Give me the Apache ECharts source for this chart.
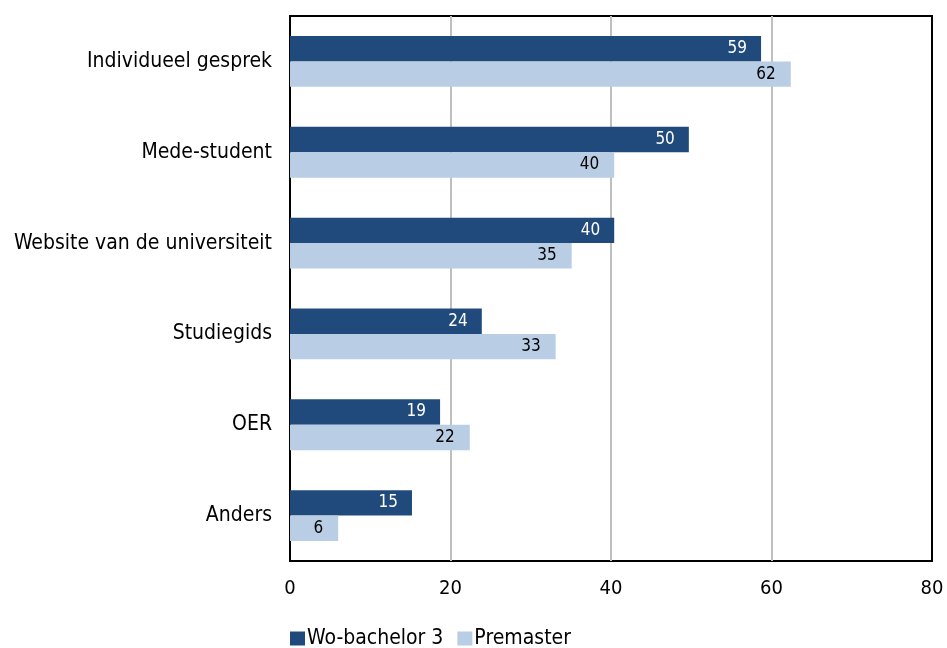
<!DOCTYPE html>
<html>
<head>
<meta charset="utf-8">
<script src="https://cdn.jsdelivr.net/npm/echarts@6/dist/echarts.min.js"></script>
<style>
html,body{margin:0;padding:0;background:#fff;}
#c{width:947px;height:648px;}
</style>
</head>
<body>
<div id="c"></div>
<script>
const categories = ["Individueel gesprek", "Mede-student", "Website van de universiteit", "Studiegids", "OER", "Anders"];
const woBachelor = [58.7, 49.7, 40.4, 23.9, 18.7, 15.2];
const premaster = [62.4, 40.4, 35.1, 33.1, 22.4, 6.0];
const seriesNames = ["Wo-bachelor 3", "Premaster"];
const xTicks = { min: 0, max: 80, interval: 20 };

const FONT = '"DejaVu Sans Condensed", "DejaVu Sans", Verdana, sans-serif';
const chart = echarts.init(document.getElementById('c'), null, { renderer: 'canvas' });
chart.setOption({
  animation: false,
  backgroundColor: '#ffffff',
  textStyle: { fontFamily: FONT },
  grid: {
    left: 290, right: 15, top: 16, bottom: 87,
    show: true, borderColor: '#000000', borderWidth: 2, backgroundColor: 'transparent',
    containLabel: false
  },
  legend: {
    left: 290, top: 628, padding: 0,
    itemWidth: 15, itemHeight: 14, itemGap: 14,
    icon: 'rect',
    textStyle: { fontFamily: FONT, fontSize: 21, color: '#000', padding: [0, 0, 0, -3] },
    data: seriesNames
  },
  xAxis: {
    type: 'value',
    min: xTicks.min, max: xTicks.max, interval: xTicks.interval,
    axisLine: { show: false },
    axisTick: { show: false },
    splitLine: { show: true, lineStyle: { color: ['#000000', '#BFBFBF', '#BFBFBF', '#BFBFBF', '#000000'], width: 2 } },
    axisLabel: { fontFamily: FONT, fontSize: 20, color: '#000', margin: 18 }
  },
  yAxis: {
    type: 'category',
    inverse: true,
    data: categories,
    axisLine: { show: true, lineStyle: { color: '#000', width: 2 } },
    axisTick: { show: false },
    axisLabel: { fontFamily: FONT, fontSize: 21, color: '#000', margin: 18 }
  },
  series: [
    {
      name: seriesNames[0], type: 'bar', data: woBachelor,
      barGap: '0%', barCategoryGap: '44%',
      itemStyle: { color: '#204A7C' },
      label: {
        show: true, position: 'insideRight', distance: 14,
        color: '#ffffff', fontFamily: FONT, fontSize: 17,
        formatter: p => Math.round(p.value)
      }
    },
    {
      name: seriesNames[1], type: 'bar', data: premaster,
      barGap: '0%', barCategoryGap: '44%',
      itemStyle: { color: '#B9CDE4' },
      label: {
        show: true, position: 'insideRight', distance: 15,
        color: '#000000', fontFamily: FONT, fontSize: 17,
        formatter: p => Math.round(p.value)
      }
    }
  ]
});
</script>
</body>
</html>
